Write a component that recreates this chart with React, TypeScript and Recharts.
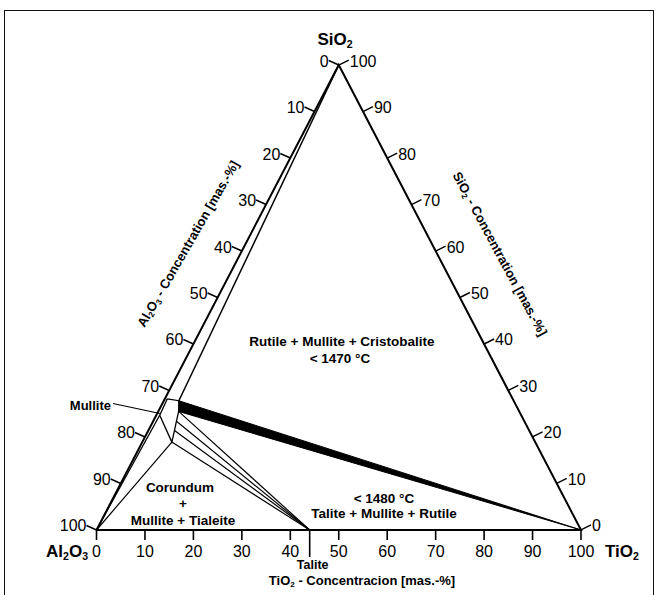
import React from 'react';
import { ScatterChart, Scatter, XAxis, YAxis } from 'recharts';

// ternary points are [TiO2 %, SiO2 %]; Al2O3 is the rest
type Tern = [number, number];

const TIO2_TICKS = [0, 10, 20, 30, 40, 50, 60, 70, 80, 90, 100];
const AL2O3_TICKS = [0, 10, 20, 30, 40, 50, 60, 70, 80, 90, 100];
const SIO2_TICKS = [0, 10, 20, 30, 40, 50, 60, 70, 80, 90, 100];

const CORNER_AL: Tern = [0, 0];
const CORNER_TI: Tern = [100, 0];
const CORNER_SI: Tern = [0, 100];
const TIALITE: Tern = [44, 0];

// mullite solid solution field
const MUL_TOP_L: Tern = [0.5, 28.2];
const MUL_TOP_R: Tern = [3.1, 27.8];
const MUL_R1: Tern = [4.2, 25.5];
const MUL_R2: Tern = [4.8, 23.4];
const MUL_R3: Tern = [5.4, 21.4];
const MUL_BOT: Tern = [6.1, 18.9];
const MUL_LEFT: Tern = [0.7, 24.7];

const OUTLINE: Tern[] = [CORNER_AL, CORNER_TI, CORNER_SI, CORNER_AL];
const MULLITE_FIELD: Tern[] = [MUL_TOP_L, MUL_TOP_R, MUL_R1, MUL_R2, MUL_R3, MUL_BOT, MUL_LEFT, MUL_TOP_L];
const CRISTOBALITE_LINE: Tern[] = [CORNER_SI, MUL_TOP_R];
const RUTILE_BAND: Tern[] = [MUL_TOP_R, CORNER_TI, MUL_R1, MUL_TOP_R];
const TIALITE_TIES: Tern[][] = [
  [MUL_R1, TIALITE],
  [MUL_R2, TIALITE],
  [MUL_R3, TIALITE],
  [MUL_BOT, TIALITE],
];
const CORUNDUM_TIES: Tern[][] = [
  [CORNER_AL, MUL_LEFT],
  [CORNER_AL, MUL_BOT],
];

// cartesian domain so the whole 659x595 canvas is the plot area
const X_DOMAIN = [-19.92, 116.1];
const Y_DOMAIN = [-13.98, 113.98];

const FONT = '"Liberation Sans", Arial, Helvetica, sans-serif';

const toXY = ([t, s]: Tern) => ({ x: t + s / 2, y: s });

const bottomTicks = TIO2_TICKS.map((v) => ({ ...toXY([v, 0]), label: v }));
const leftTicks = AL2O3_TICKS.map((a) => ({ ...toXY([0, 100 - a]), label: a }));
const rightTicks = SIO2_TICKS.map((s) => ({ ...toXY([100 - s, s]), label: s }));

const Nothing = () => <g />;

const BottomTick = (p: any) => (
  <g>
    <line x1={p.cx} y1={p.cy} x2={p.cx} y2={p.cy + 10} stroke="#000" strokeWidth={1.6} />
    <text x={p.cx} y={p.cy + 27} textAnchor="middle" fontSize={16} fontFamily={FONT} fill="#000">
      {p.payload.label}
    </text>
  </g>
);

const LeftTick = (p: any) => (
  <g>
    <line x1={p.cx} y1={p.cy} x2={p.cx - 10} y2={p.cy - 4.5} stroke="#000" strokeWidth={1.4} />
    <text x={p.cx - 10} y={p.cy + 1.5} textAnchor="end" fontSize={16} fontFamily={FONT} fill="#000">
      {p.payload.label}
    </text>
  </g>
);

const RightTick = (p: any) => (
  <g>
    <line x1={p.cx} y1={p.cy} x2={p.cx + 10} y2={p.cy - 5} stroke="#000" strokeWidth={1.4} />
    <text x={p.cx + 11} y={p.cy + 1.5} textAnchor="start" fontSize={16} fontFamily={FONT} fill="#000">
      {p.payload.label}
    </text>
  </g>
);

const TialiteMark = (p: any) => (
  <g>
    <line x1={p.cx} y1={p.cy} x2={p.cx} y2={p.cy + 27} stroke="#000" strokeWidth={1.6} />
    <text x={p.cx + 3} y={p.cy + 39.5} textAnchor="middle" fontSize={12.5} fontWeight="bold" fontFamily={FONT} fill="#000">
      Talite
    </text>
  </g>
);

function Sub({ children }: { children: React.ReactNode }) {
  return (
    <tspan baselineShift="-28%" fontSize="0.62em">{children}</tspan>
  );
}

function Labels() {
  const b = { fontFamily: FONT, fontWeight: 'bold' as const, fill: '#000' };
  return (
    <svg width={659} height={595} style={{ position: 'absolute', left: 0, top: 0, pointerEvents: 'none' }}>
      <text x={335} y={45} textAnchor="middle" fontSize={17} {...b}>
        SiO<Sub>2</Sub>
      </text>
      <text x={88} y={557} textAnchor="end" fontSize={17} {...b}>
        Al<Sub>2</Sub>O<Sub>3</Sub>
      </text>
      <text x={605} y={557} textAnchor="start" fontSize={17} {...b}>
        TiO<Sub>2</Sub>
      </text>
      <text x={362} y={585} textAnchor="middle" fontSize={13} {...b}>
        TiO<Sub>2</Sub> - Concentracion [mas.-%]
      </text>
      <text transform="translate(192,246) rotate(-60)" textAnchor="middle" fontSize={13} {...b}>
        Al<Sub>2</Sub>O<Sub>3</Sub> - Concentration [mas.-%]
      </text>
      <text transform="translate(496,256) rotate(61.6)" textAnchor="middle" fontSize={13} {...b}>
        SiO<Sub>2</Sub> - Concentration [mas.-%]
      </text>

      <text x={111} y={409.5} textAnchor="end" fontSize={13} {...b}>Mullite</text>
      <line x1={113} y1={403.5} x2={160} y2={413.5} stroke="#000" strokeWidth={1.2} />

      <text x={342} y={346} textAnchor="middle" fontSize={13.5} {...b}>Rutile + Mullite + Cristobalite</text>
      <text x={340} y={363} textAnchor="middle" fontSize={13.5} {...b}>{'< 1470 °C'}</text>

      <text x={180} y={492} textAnchor="middle" fontSize={13.5} {...b}>Corundum</text>
      <text x={183} y={508} textAnchor="middle" fontSize={13.5} {...b}>+</text>
      <text x={183} y={525} textAnchor="middle" fontSize={13.5} {...b}>Mullite + Tialeite</text>

      <text x={384} y={503} textAnchor="middle" fontSize={13.5} {...b}>{'< 1480 °C'}</text>
      <text x={384} y={518} textAnchor="middle" fontSize={13.5} {...b}>Talite + Mullite + Rutile</text>
    </svg>
  );
}

export default function App() {
  const lineSeries = (pts: Tern[], width: number, key: string) => (
    <Scatter
      key={key}
      data={pts.map(toXY)}
      line={{ stroke: '#000', strokeWidth: width }}
      lineType="joint"
      shape={Nothing}
      isAnimationActive={false}
    />
  );

  return (
    <div style={{ position: 'absolute', left: 0, top: 0, width: 659, height: 595, overflow: 'hidden', background: '#fff' }}>
      <div style={{ position: 'absolute', left: 4, top: 10, width: 648, height: 640, border: '1.5px solid #111' }} />
      <div style={{ position: 'absolute', left: 0, top: 0 }}>
        <ScatterChart width={659} height={595} margin={{ top: 0, right: 0, bottom: 0, left: 0 }}>
          <XAxis type="number" dataKey="x" domain={X_DOMAIN} hide allowDataOverflow />
          <YAxis type="number" dataKey="y" domain={Y_DOMAIN} hide allowDataOverflow />

          <Scatter
            data={RUTILE_BAND.map(toXY)}
            line={{ stroke: '#000', strokeWidth: 1, fill: '#000' }}
            lineType="joint"
            shape={Nothing}
            isAnimationActive={false}
          />
          {lineSeries(OUTLINE, 2, 'outline')}
          {lineSeries(CRISTOBALITE_LINE, 1.5, 'cristo')}
          {lineSeries(MULLITE_FIELD, 1.3, 'mullite')}
          {TIALITE_TIES.map((seg, i) => lineSeries(seg, 1.2, `ti${i}`))}
          {CORUNDUM_TIES.map((seg, i) => lineSeries(seg, 1.2, `co${i}`))}

          <Scatter data={bottomTicks} shape={BottomTick} isAnimationActive={false} />
          <Scatter data={leftTicks} shape={LeftTick} isAnimationActive={false} />
          <Scatter data={rightTicks} shape={RightTick} isAnimationActive={false} />
          <Scatter data={[toXY(TIALITE)]} shape={TialiteMark} isAnimationActive={false} />
        </ScatterChart>
      </div>
      <Labels />
    </div>
  );
}
